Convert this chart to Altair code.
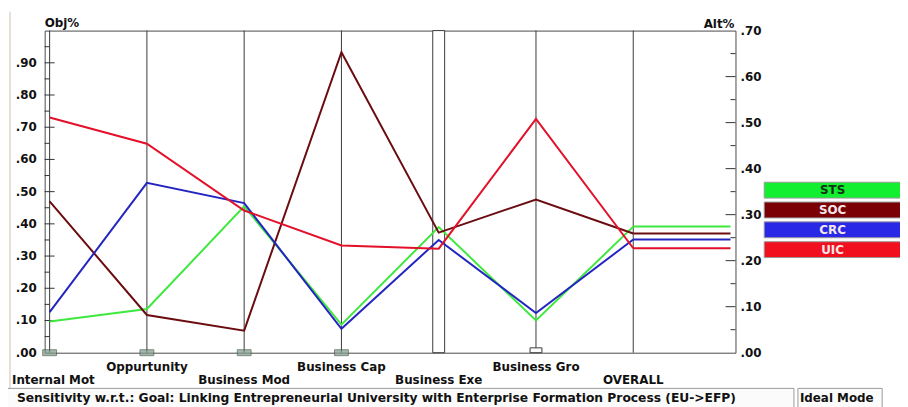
import altair as alt
import pandas as pd

# ---------------- data ----------------
criteria = ["Internal Mot", "Oppurtunity", "Business Mod", "Business Cap",
            "Business Exe", "Business Gro", "OVERALL"]
alternatives = ["STS", "SOC", "CRC", "UIC"]
sts = [0.068, 0.095, 0.318, 0.061, 0.273, 0.070, 0.274]
soc = [0.329, 0.082, 0.048, 0.653, 0.261, 0.333, 0.259]
crc = [0.088, 0.369, 0.325, 0.052, 0.245, 0.086, 0.246]
uic = [0.511, 0.454, 0.309, 0.233, 0.226, 0.508, 0.227]
obj_weights = [0.0, 0.0, 0.0, 0.0, 1.0, 0.015]  # Obj% of the six criteria

obj_major = [0.10, 0.20, 0.30, 0.40, 0.50, 0.60, 0.70, 0.80, 0.90]
obj_minor = [0.05, 0.15, 0.25, 0.35, 0.45, 0.55, 0.65, 0.75, 0.85, 0.95]
obj_label_vals = [0.00, 0.10, 0.20, 0.30, 0.40, 0.50, 0.60, 0.70, 0.80, 0.90]
obj_label_text = [".00", ".10", ".20", ".30", ".40", ".50", ".60", ".70", ".80", ".90"]
alt_major = [0.10, 0.20, 0.30, 0.40, 0.50, 0.60]
alt_minor = [0.05, 0.15, 0.25, 0.35, 0.45, 0.55, 0.65]
alt_label_vals = [0.00, 0.10, 0.20, 0.30, 0.40, 0.50, 0.60, 0.70]
alt_label_text = [".00", ".10", ".20", ".30", ".40", ".50", ".60", ".70"]

status_text = ("Sensitivity w.r.t.: Goal: Linking Entrepreneurial University "
               "with Enterprise Formation Process (EU->EFP)")
mode_text = "Ideal Mode"

line_colors = ["#3ee83e", "#6a0c10", "#2424c0", "#e3102a"]
legend_fills = ["#12ee30", "#7a0006", "#2828e6", "#f0101e"]

# ---------------- frames ----------------
series = [sts, soc, crc, uic]
rows = []
for name, vals in zip(alternatives, series):
    for i, v in enumerate(vals):
        rows.append({"alt": name, "i": i, "v": v})
lines_df = pd.DataFrame(rows)
ext_df = pd.DataFrame({"alt": alternatives, "v": [s[-1] for s in series],
                       "i0": len(criteria) - 1, "i1": len(criteria)})
crit_df = pd.DataFrame({"i": list(range(len(criteria))), "name": criteria})
w_df = pd.DataFrame({"i": list(range(len(obj_weights))), "w": obj_weights})
leg_df = pd.DataFrame({"alt": alternatives, "k": list(range(len(alternatives)))})
obj_lab_df = pd.DataFrame({"v": obj_label_vals, "t": obj_label_text})
alt_lab_df = pd.DataFrame({"v": alt_label_vals, "t": alt_label_text})
one = pd.DataFrame({"a": [1]})

W, H = 697, 325
FONT = "DejaVu Sans"
XS = alt.Scale(domain=[0, len(criteria)], nice=False, zero=False)
OBJ = alt.Scale(domain=[0, 1], nice=False, zero=True)
ALTS = alt.Scale(domain=[0, 0.7], nice=False, zero=True)
COLOR = alt.Scale(domain=alternatives, range=line_colors)
FILL = alt.Scale(domain=alternatives, range=legend_fills)
X = alt.X("i:Q", scale=XS, axis=None)
lab_style = dict(font=FONT, fontWeight="bold", fontSize=12, color="#111111")

# ---------------- Obj% group ----------------
vlines = alt.Chart(crit_df).mark_rule(color="#3a3a3a", strokeWidth=1).encode(x=X)

bars = alt.Chart(w_df).transform_filter("datum.w > 0").mark_bar(
    size=12, fill="white", stroke="#3a3a3a", strokeWidth=1
).encode(x=X, y=alt.Y("w:Q", scale=OBJ, axis=None))

zero_marks = alt.Chart(w_df).transform_filter("datum.w == 0").mark_tick(
    orient="horizontal", size=14, thickness=6, color="#7f9c8a",
    stroke="#46574d", strokeWidth=1
).encode(x=X, y=alt.Y("w:Q", scale=OBJ, axis=None))

lt_major = alt.Chart(pd.DataFrame({"v": obj_major})).mark_rule(color="#333333").encode(
    x=alt.value(0), x2=alt.value(10), y=alt.Y("v:Q", scale=OBJ, axis=None))
lt_minor = alt.Chart(pd.DataFrame({"v": obj_minor})).mark_rule(color="#333333").encode(
    x=alt.value(0), x2=alt.value(5), y=alt.Y("v:Q", scale=OBJ, axis=None))
obj_labels = alt.Chart(obj_lab_df).mark_text(
    align="right", baseline="middle", **lab_style
).encode(x=alt.value(-8), y=alt.Y("v:Q", scale=OBJ, axis=None), text="t:N")

obj_title = alt.Chart(one).mark_text(
    text="Obj%", align="left", baseline="alphabetic", **lab_style
).encode(x=alt.value(0), y=alt.value(-4))

obj_group = alt.layer(vlines, bars, zero_marks, lt_major, lt_minor, obj_labels, obj_title)

# ---------------- Alt% group ----------------
lines = alt.Chart(lines_df).mark_line(strokeWidth=2).encode(
    x=X,
    y=alt.Y("v:Q", scale=ALTS, axis=None),
    color=alt.Color("alt:N", scale=COLOR, legend=None),
)

ext = alt.Chart(ext_df).mark_rule(strokeWidth=2).encode(
    x=alt.X("i0:Q", scale=XS, axis=None), x2="i1:Q",
    y=alt.Y("v:Q", scale=ALTS, axis=None),
    color=alt.Color("alt:N", scale=COLOR, legend=None),
)

rt_major = alt.Chart(pd.DataFrame({"v": alt_major})).mark_rule(color="#333333").encode(
    x=alt.value(W - 10), x2=alt.value(W), y=alt.Y("v:Q", scale=ALTS, axis=None))
rt_minor = alt.Chart(pd.DataFrame({"v": alt_minor})).mark_rule(color="#333333").encode(
    x=alt.value(W - 5), x2=alt.value(W), y=alt.Y("v:Q", scale=ALTS, axis=None))
alt_labels = alt.Chart(alt_lab_df).mark_text(
    align="left", baseline="middle", **lab_style
).encode(x=alt.value(W + 5), y=alt.Y("v:Q", scale=ALTS, axis=None), text="t:N")

alt_title = alt.Chart(one).mark_text(
    text="Alt%", align="right", baseline="alphabetic", **lab_style
).encode(x=alt.value(W - 1), y=alt.value(-3))

leg_boxes = alt.Chart(leg_df).transform_calculate(
    ly="153 + 20 * datum.k", ly2="169 + 20 * datum.k"
).mark_rect(stroke="#9a9a9a", strokeWidth=1).encode(
    x=alt.value(W + 29), x2=alt.value(W + 175),
    y=alt.Y("ly:Q", scale=None), y2="ly2:Q",
    fill=alt.Fill("alt:N", scale=FILL, legend=None),
)
leg_text = alt.Chart(leg_df).transform_calculate(
    lc="161 + 20 * datum.k"
).mark_text(align="center", baseline="middle", font=FONT, fontWeight="bold",
            fontSize=12).encode(
    x=alt.value(W + 98),
    y=alt.Y("lc:Q", scale=None),
    text="alt:N",
    color=alt.condition("datum.alt == 'STS'", alt.value("#153015"), alt.value("#f3e6e6")),
)

lab_upper = alt.Chart(crit_df).transform_filter("datum.i % 2 == 1").mark_text(
    align="center", baseline="alphabetic", **lab_style
).encode(x=X, y=alt.value(H + 18), text="name:N")
lab_lower = alt.Chart(crit_df).transform_filter("datum.i % 2 == 0 && datum.i > 0").mark_text(
    align="center", baseline="alphabetic", **lab_style
).encode(x=X, y=alt.value(H + 32), text="name:N")
lab_first = alt.Chart(crit_df).transform_filter("datum.i == 0").mark_text(
    align="left", baseline="alphabetic", dx=-38, **lab_style
).encode(x=X, y=alt.value(H + 32), text="name:N")

frame = alt.Chart(one).mark_rule(color="#cdbfb0", strokeWidth=1).encode(
    x=alt.value(-35), y=alt.value(-19), y2=alt.value(H + 45))

status_box = alt.Chart(one).mark_rect(fill="#fbfbfb", stroke="#9a9a9a", strokeWidth=1).encode(
    x=alt.value(-40), x2=alt.value(756), y=alt.value(H + 36), y2=alt.value(H + 60))
mode_box = alt.Chart(one).mark_rect(fill="#fbfbfb", stroke="#9a9a9a", strokeWidth=1).encode(
    x=alt.value(760), x2=alt.value(845), y=alt.value(H + 36), y2=alt.value(H + 60))
status_lbl = alt.Chart(one).mark_text(
    text=status_text, align="left", baseline="alphabetic",
    font=FONT, fontWeight="bold", fontSize=12.4, color="#111111"
).encode(x=alt.value(-28), y=alt.value(H + 50))
mode_lbl = alt.Chart(one).mark_text(
    text=mode_text, align="left", baseline="alphabetic", **lab_style
).encode(x=alt.value(762), y=alt.value(H + 50))

alt_group = alt.layer(lines, ext, rt_major, rt_minor, alt_labels, alt_title,
                      leg_boxes, leg_text, lab_upper, lab_lower, lab_first, frame,
                      status_box, mode_box, status_lbl, mode_lbl)

chart = alt.layer(obj_group, alt_group).resolve_scale(y="independent").properties(
    width=W, height=H,
    autosize=alt.AutoSizeParams(type="none"),
    padding={"left": 37, "top": 21, "right": 166, "bottom": 53},
    background="white",
).configure_view(stroke="#4a4a4a", strokeWidth=1)

chart.save("out.html", embed_options={"renderer": "svg", "actions": False})
